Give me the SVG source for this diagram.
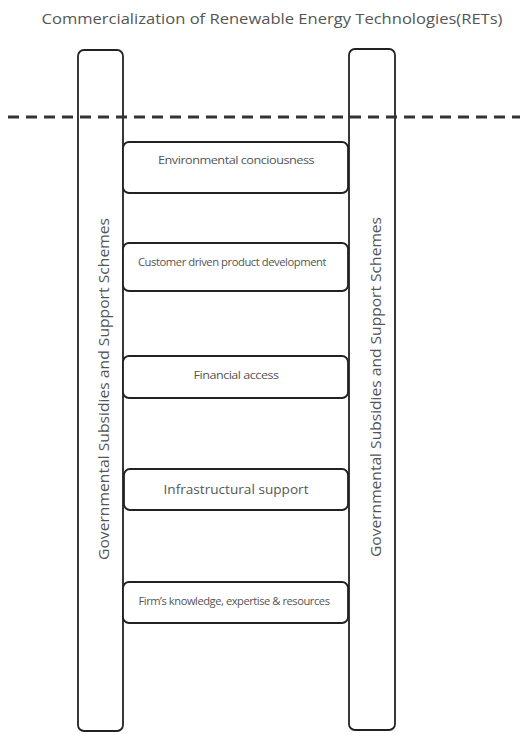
<svg xmlns="http://www.w3.org/2000/svg" width="520" height="733" viewBox="0 0 520 733">
<style>
.rail{fill:#fff;stroke:#222;stroke-width:1.8}
.rung{fill:#fff;stroke:#222;stroke-width:1.8}
.t{font-family:"Open Sans","Liberation Sans",sans-serif;fill:#555;text-anchor:middle;dominant-baseline:central}
.s{font-size:10px;letter-spacing:-0.4px}
</style>
<rect width="520" height="733" fill="#fff"/>
<text class="t" x="272" y="18" font-size="14" textLength="461" lengthAdjust="spacingAndGlyphs">Commercialization of Renewable Energy Technologies(RETs)</text>
<g id="left-rail">
<rect class="rail" x="78" y="50" width="45" height="681" rx="6"/>
<text class="t" font-size="14" transform="translate(103,389) rotate(-90)" textLength="342" lengthAdjust="spacingAndGlyphs">Governmental Subsidies and Support Schemes</text>
</g>
<g id="right-rail">
<rect class="rail" x="349" y="49" width="46" height="681" rx="6"/>
<text class="t" font-size="14" transform="translate(375,387) rotate(-90)" textLength="340" lengthAdjust="spacingAndGlyphs">Governmental Subsidies and Support Schemes</text>
</g>
<g id="connectors">
<line x1="8" y1="117" x2="520" y2="117" stroke="#333" stroke-width="3" stroke-dasharray="11,7"/>
</g>
<g id="rung1">
<rect class="rung" x="123" y="142" width="225" height="51" rx="6"/>
<text class="t s" x="236" y="160" textLength="156" lengthAdjust="spacingAndGlyphs">Environmental conciousness</text>
</g>
<g id="rung2">
<rect class="rung" x="123" y="243" width="225" height="48" rx="6"/>
<text class="t s" x="232" y="262" textLength="188" lengthAdjust="spacingAndGlyphs">Customer driven product  development</text>
</g>
<g id="rung3">
<rect class="rung" x="123" y="356" width="225" height="42" rx="6"/>
<text class="t s" x="236" y="375" textLength="85" lengthAdjust="spacingAndGlyphs">Financial access</text>
</g>
<g id="rung4">
<rect class="rung" x="124" y="469" width="224" height="41" rx="6"/>
<text class="t" x="236" y="489" font-size="12" textLength="145" lengthAdjust="spacingAndGlyphs">Infrastructural support</text>
</g>
<g id="rung5">
<rect class="rung" x="123" y="582" width="225" height="41" rx="6"/>
<text class="t s" x="234" y="601" textLength="191" lengthAdjust="spacingAndGlyphs">Firm’s knowledge, expertise &amp; resources</text>
</g>
</svg>
